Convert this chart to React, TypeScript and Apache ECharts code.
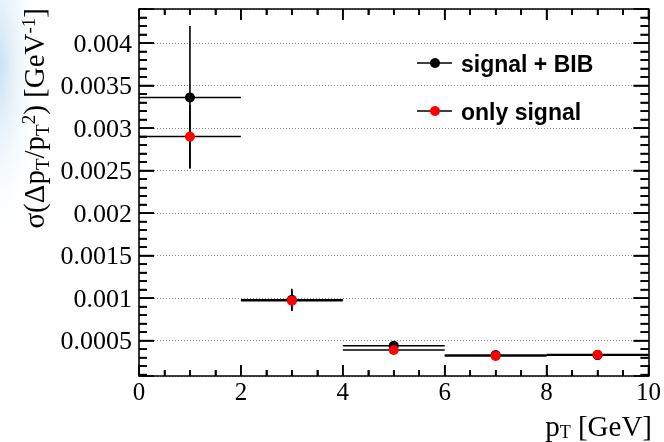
import React, { useEffect, useRef } from "react";
import * as echarts from "echarts";

// ---- data ----
const ptCenters = [1, 3, 5, 7, 9];
const ptHalfWidths = [1, 1, 1, 1, 1];
const bibValues = [0.00336, 0.00098, 0.00044, 0.00033, 0.00033];
const bibErrors = [0.00084, 0.00013, 0.00003, 0.00002, 0.00002];
const sigValues = [0.0029, 0.00097, 0.00039, 0.00032, 0.000335];
const sigErrors = [0.00037, 0.00012, 0.00003, 0.00002, 0.00002];
const legendNames = ["signal + BIB", "only signal"];
const seriesColors = ["#000000", "#ff0000"];

// ---- axis ranges and tick values ----
const xRange = { min: 0, max: 10, interval: 2 };
const yRange = { min: 0.000084, max: 0.0044 };
const xMajorTicks = [0, 2, 4, 6, 8, 10];
const xMinorTicks = [0.5, 1, 1.5, 2.5, 3, 3.5, 4.5, 5, 5.5, 6.5, 7, 7.5, 8.5, 9, 9.5];
const yMajorTicks = [0.0005, 0.001, 0.0015, 0.002, 0.0025, 0.003, 0.0035, 0.004];
const yMinorTicks = [
  0.0001, 0.0002, 0.0003, 0.0004, 0.0006, 0.0007, 0.0008, 0.0009,
  0.0011, 0.0012, 0.0013, 0.0014, 0.0016, 0.0017, 0.0018, 0.0019,
  0.0021, 0.0022, 0.0023, 0.0024, 0.0026, 0.0027, 0.0028, 0.0029,
  0.0031, 0.0032, 0.0033, 0.0034, 0.0036, 0.0037, 0.0038, 0.0039,
  0.0041, 0.0042, 0.0043, 0.0044,
];

const serif = "'Liberation Serif', 'Times New Roman', serif";
const sans = "'Liberation Sans', Arial, Helvetica, sans-serif";

function buildRows(values: number[], errors: number[]) {
  return ptCenters.map((x, i) => [x, values[i], ptHalfWidths[i], errors[i]]);
}

function errorBarItem(params: any, api: any) {
  const x = api.value(0);
  const y = api.value(1);
  const xe = api.value(2);
  const ye = api.value(3);
  const l = api.coord([x - xe, y]);
  const r = api.coord([x + xe, y]);
  const t = api.coord([x, y + ye]);
  const b = api.coord([x, y - ye]);
  return {
    type: "group",
    children: [
      { type: "line", shape: { x1: l[0], y1: l[1], x2: r[0], y2: r[1] }, style: { stroke: "#000", lineWidth: 1.6 } },
      { type: "line", shape: { x1: t[0], y1: t[1], x2: b[0], y2: b[1] }, style: { stroke: "#000", lineWidth: 1.6 } },
    ],
  };
}

// tick rows: [value, kind, unused]  kind 0 = x major, 1 = x minor, 2 = y major, 3 = y minor
const tickRows = [
  ...xMajorTicks.map((v) => [v, yRange.min, 0, 0]),
  ...xMinorTicks.map((v) => [v, yRange.min, 1, 0]),
  ...yMajorTicks.map((v) => [xRange.min, v, 2, 0]),
  ...yMinorTicks.map((v) => [xRange.min, v, 3, 0]),
];

function tickItem(params: any, api: any) {
  const x = api.value(0);
  const y = api.value(1);
  const kind = api.value(2);
  const style = { stroke: "#000", lineWidth: 1.6 };
  if (kind === 0 || kind === 1) {
    const len = kind === 0 ? 11 : 6;
    const b = api.coord([x, yRange.min]);
    const t = api.coord([x, yRange.max]);
    return {
      type: "group",
      children: [
        { type: "line", shape: { x1: b[0], y1: b[1], x2: b[0], y2: b[1] - len }, style },
        { type: "line", shape: { x1: t[0], y1: t[1], x2: t[0], y2: t[1] + len }, style },
      ],
    };
  }
  const len = kind === 2 ? 15 : 8;
  const l = api.coord([xRange.min, y]);
  const r = api.coord([xRange.max, y]);
  return {
    type: "group",
    children: [
      { type: "line", shape: { x1: l[0], y1: l[1], x2: l[0] + len, y2: l[1] }, style },
      { type: "line", shape: { x1: r[0], y1: r[1], x2: r[0] - len, y2: r[1] }, style },
    ],
  };
}

const ls = () => ({ color: "#000", width: 1.6 });

function xAxisDef(position: string, labels: boolean) {
  return {
    type: "value",
    min: xRange.min,
    max: xRange.max,
    interval: xRange.interval,
    position,
    axisLine: { show: true, onZero: false, lineStyle: ls() },
    axisTick: { show: true, inside: true, length: 11, lineStyle: ls() },
    minorTick: { show: true, splitNumber: 4, length: 6, lineStyle: ls() },
    splitLine: { show: false },
    axisLabel: labels
      ? { show: true, color: "#000", fontFamily: serif, fontSize: 25, margin: 3 }
      : { show: false },
  };
}

function yAxisDef(position: string, labels: boolean) {
  return {
    type: "value",
    min: yRange.min,
    max: yRange.max,
    splitNumber: 9,
    position,
    axisLine: { show: true, onZero: false, lineStyle: ls() },
    axisTick: { show: true, inside: true, length: 15, lineStyle: ls() },
    minorTick: { show: true, splitNumber: 5, length: 8, lineStyle: ls() },
    splitLine: labels
      ? { show: true, lineStyle: { color: "#8c8c8c", width: 1, type: [1, 2] } }
      : { show: false },
    axisLabel: labels
      ? {
          show: true,
          color: "#000",
          fontFamily: serif,
          fontSize: 26,
          margin: 7,
          showMinLabel: false,
          showMaxLabel: false,
          formatter: (v: number) => String(+v.toPrecision(6)),
        }
      : { show: false },
  };
}

export default function App() {
  const ref = useRef<HTMLDivElement>(null);
  useEffect(() => {
    document.body.style.margin = "0";
    const chart = echarts.init(ref.current!, null, { renderer: "svg" });
    const bibRows = buildRows(bibValues, bibErrors);
    const sigRows = buildRows(sigValues, sigErrors);
    const option: any = {
      animation: false,
      grid: { left: 139, right: 13, top: 9, bottom: 66 },
      xAxis: [xAxisDef("bottom", true), xAxisDef("top", false)],
      yAxis: [yAxisDef("left", true), yAxisDef("right", false)],
      graphic: [
        {
          type: "rect",
          z: -10,
          shape: { x: 0, y: 0, width: 60, height: 260 },
          style: {
            fill: new echarts.graphic.RadialGradient(0, 0.25, 0.7, [
              { offset: 0, color: "rgba(190,220,240,0.85)" },
              { offset: 1, color: "rgba(255,255,255,0)" },
            ]),
          },
          silent: true,
        },
        {
          type: "text",
          x: 34,
          y: 8,
          rotation: Math.PI / 2,
          style: {
            text: "σ(Δp{sub|T}/p{sub|T}{sup|2}) [GeV{sup|-1}]",
            align: "right",
            verticalAlign: "middle",
            fontFamily: serif,
            fontSize: 29,
            fill: "#000",
            rich: {
              sub: { fontFamily: serif, fontSize: 19, fill: "#000", padding: [16, 0, 0, 0] },
              sup: { fontFamily: serif, fontSize: 19, fill: "#000", padding: [0, 0, 12, 0] },
            },
          },
        },
        {
          type: "text",
          x: 652,
          y: 441,
          style: {
            text: "p{sub|T} [GeV]",
            align: "right",
            verticalAlign: "bottom",
            fontFamily: serif,
            fontSize: 29,
            fill: "#000",
            rich: {
              sub: { fontFamily: serif, fontSize: 18, fill: "#000", padding: [12, 0, 0, 0] },
            },
          },
        },
        // legend
        { type: "line", shape: { x1: 417, y1: 63, x2: 452, y2: 63 }, style: { stroke: "#000", lineWidth: 1.6 } },
        { type: "circle", shape: { cx: 435, cy: 63, r: 5 }, style: { fill: seriesColors[0] } },
        {
          type: "text",
          x: 461,
          y: 64,
          style: { text: legendNames[0], fontFamily: sans, fontWeight: "bold", fontSize: 23, fill: "#000", verticalAlign: "middle" },
        },
        { type: "line", shape: { x1: 417, y1: 111, x2: 452, y2: 111 }, style: { stroke: "#000", lineWidth: 1.6 } },
        { type: "circle", shape: { cx: 435, cy: 111, r: 5 }, style: { fill: seriesColors[1] } },
        {
          type: "text",
          x: 461,
          y: 112,
          style: { text: legendNames[1], fontFamily: sans, fontWeight: "bold", fontSize: 23, fill: "#000", verticalAlign: "middle" },
        },
      ],
      series: [
        { type: "custom", name: "axis ticks", renderItem: tickItem, data: tickRows, encode: { x: 0, y: 1 }, clip: false, silent: true, z: 5 },
        { type: "custom", name: legendNames[0] + " errors", renderItem: errorBarItem, data: bibRows, encode: { x: 0, y: 1 }, z: 2 },
        { type: "custom", name: legendNames[1] + " errors", renderItem: errorBarItem, data: sigRows, encode: { x: 0, y: 1 }, z: 2 },
        {
          type: "scatter",
          name: legendNames[0],
          data: bibRows.map((r) => [r[0], r[1]]),
          symbol: "circle",
          symbolSize: 10,
          itemStyle: { color: seriesColors[0], opacity: 1 },
          z: 3,
        },
        {
          type: "scatter",
          name: legendNames[1],
          data: sigRows.map((r) => [r[0], r[1]]),
          symbol: "circle",
          symbolSize: 10,
          itemStyle: { color: seriesColors[1], opacity: 1 },
          z: 4,
        },
      ],
    };
    chart.setOption(option);
    return () => chart.dispose();
  }, []);
  return <div ref={ref} style={{ position: "fixed", left: 0, top: 0, width: 664, height: 442 }} />;
}
